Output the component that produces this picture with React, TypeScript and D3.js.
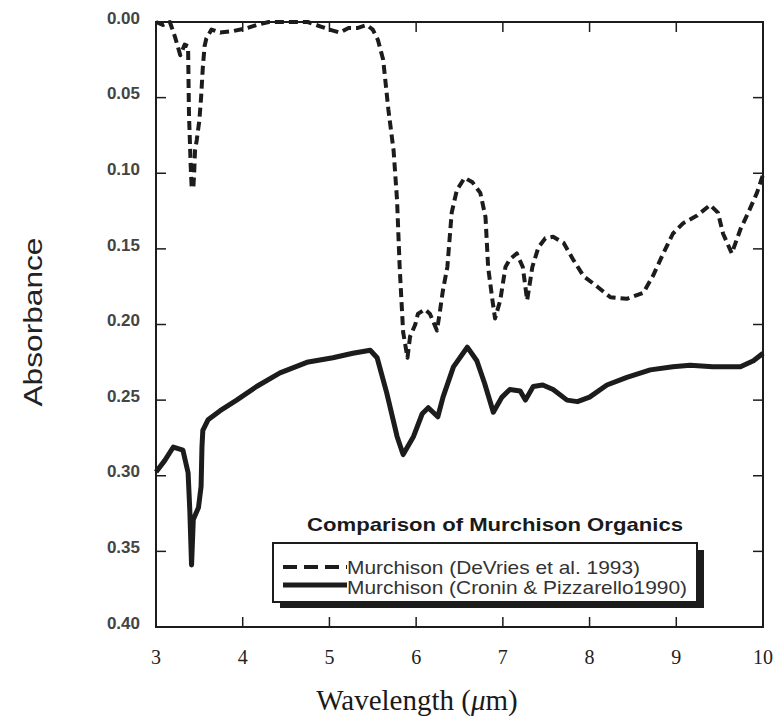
import React from 'react';
import * as d3 from 'd3';

// DeVries et al. 1993 (dashed)
const devriesWl = [
  3.0, 3.08, 3.16, 3.22, 3.28, 3.33, 3.37, 3.38, 3.40, 3.41,
  3.43, 3.44, 3.45, 3.47, 3.50, 3.52, 3.54, 3.56, 3.58, 3.64,
  3.74, 3.89, 4.05, 4.16, 4.3, 4.55, 4.75, 4.9, 5.0, 5.12,
  5.22, 5.32, 5.43, 5.5, 5.56, 5.62, 5.68, 5.74, 5.78, 5.81,
  5.85, 5.9, 5.93, 5.99, 6.02, 6.1, 6.16, 6.24, 6.27, 6.31,
  6.36, 6.41, 6.47, 6.56, 6.65, 6.74, 6.8, 6.83, 6.88, 6.91,
  6.97, 7.03, 7.08, 7.16, 7.23, 7.28, 7.34, 7.41, 7.49, 7.58,
  7.70, 7.81, 7.93, 8.09, 8.24, 8.43, 8.62, 8.73, 8.85, 8.96,
  9.08, 9.24, 9.39, 9.48, 9.54, 9.64, 9.74, 9.83, 9.93, 10.0,
];
const devriesAbs = [
  0.0, 0.002, 0.0, 0.01, 0.022, 0.015, 0.016, 0.06, 0.095, 0.108,
  0.11, 0.1, 0.085, 0.078, 0.065, 0.05, 0.03, 0.016, 0.011, 0.005,
  0.007, 0.006, 0.004, 0.002, 0.0, 0.0, 0.0, 0.003, 0.005, 0.007,
  0.004, 0.004, 0.002, 0.005, 0.012, 0.025, 0.058, 0.085, 0.118, 0.162,
  0.205, 0.222, 0.208, 0.2, 0.193, 0.19, 0.193, 0.204, 0.193, 0.177,
  0.162, 0.126, 0.111, 0.103, 0.106, 0.113, 0.129, 0.162, 0.184, 0.196,
  0.184, 0.162, 0.157, 0.153, 0.162, 0.184, 0.162, 0.149, 0.143, 0.142,
  0.146, 0.157, 0.168, 0.175, 0.182, 0.183, 0.179, 0.168, 0.153, 0.14,
  0.133, 0.128, 0.121, 0.126, 0.14, 0.153, 0.137, 0.126, 0.113, 0.101,
];

// Cronin & Pizzarello 1990 (solid)
const croninWl = [
  3.0, 3.1, 3.2, 3.31, 3.37, 3.39, 3.41, 3.43, 3.49, 3.52,
  3.53, 3.54, 3.6, 3.74, 3.93, 4.16, 4.43, 4.74, 5.04, 5.27,
  5.47, 5.55, 5.66, 5.78, 5.85, 5.97, 6.07, 6.14, 6.25, 6.31,
  6.43, 6.59, 6.70, 6.79, 6.89, 6.99, 7.08, 7.20, 7.26, 7.35,
  7.46, 7.58, 7.74, 7.86, 8.0, 8.2, 8.43, 8.7, 8.96, 9.16,
  9.42, 9.74, 9.89, 10.0,
];
const croninAbs = [
  0.2975, 0.29, 0.281, 0.283, 0.298, 0.323, 0.359, 0.329, 0.321, 0.307,
  0.281, 0.27, 0.263, 0.257, 0.25, 0.241, 0.232, 0.225, 0.222, 0.219,
  0.217, 0.222, 0.245, 0.274, 0.286, 0.274, 0.259, 0.255, 0.261, 0.248,
  0.228, 0.215, 0.224, 0.239, 0.258, 0.248, 0.243, 0.244, 0.25, 0.241,
  0.24, 0.243, 0.25, 0.251, 0.248, 0.24, 0.235, 0.23, 0.228, 0.227,
  0.228, 0.228, 0.224, 0.219,
];

const xTicks = [3, 4, 5, 6, 7, 8, 9, 10];
const yTicks = [0, 0.05, 0.1, 0.15, 0.2, 0.25, 0.3, 0.35, 0.4];

const legendTitle = 'Comparison of Murchison Organics';
const legendLabels = [
  'Murchison (DeVries et al. 1993)',
  'Murchison (Cronin & Pizzarello1990)',
];

const W = 774;
const H = 716;
const left = 156;
const right = 763;
const top = 22;
const bottom = 627;
const ink = '#1c1c1c';

export default function App() {
  const x = d3.scaleLinear().domain([3, 10]).range([left, right]);
  const y = d3.scaleLinear().domain([0, 0.4]).range([top, bottom]);

  const line = d3
    .line<[number, number]>()
    .x((d) => x(d[0]))
    .y((d) => y(d[1]));

  const devries = devriesWl.map((w, i) => [w, devriesAbs[i]] as [number, number]);
  const cronin = croninWl.map((w, i) => [w, croninAbs[i]] as [number, number]);

  const tickLen = 10;

  return (
    <svg
      width={W}
      height={H}
      style={{ position: 'absolute', left: 0, top: 0, background: '#fff' }}
    >
      <rect x={0} y={0} width={W} height={H} fill="#fff" />

      {/* frame */}
      <rect
        x={left}
        y={top}
        width={right - left}
        height={bottom - top}
        fill="none"
        stroke={ink}
        strokeWidth={2}
      />

      {/* x ticks top and bottom */}
      {xTicks.slice(1, -1).map((t) => (
        <g key={'xt' + t}>
          <line x1={x(t)} x2={x(t)} y1={bottom} y2={bottom - tickLen} stroke={ink} strokeWidth={1.5} />
          <line x1={x(t)} x2={x(t)} y1={top} y2={top + tickLen} stroke={ink} strokeWidth={1.5} />
        </g>
      ))}
      {xTicks.map((t) => (
        <text
          key={'xl' + t}
          x={x(t)}
          y={664}
          textAnchor="middle"
          fontFamily="'Liberation Serif', 'Times New Roman', serif"
          fontSize={20}
          fill="#222"
        >
          {t}
        </text>
      ))}

      {/* y ticks left and right */}
      {yTicks.slice(1, -1).map((t) => (
        <g key={'yt' + t}>
          <line x1={left} x2={left + tickLen} y1={y(t)} y2={y(t)} stroke={ink} strokeWidth={1.5} />
          <line x1={right} x2={right - tickLen} y1={y(t)} y2={y(t)} stroke={ink} strokeWidth={1.5} />
        </g>
      ))}
      {yTicks.map((t) => (
        <text
          key={'yl' + t}
          x={140}
          y={y(t)}
          dy="0.1em"
          textAnchor="end"
          fontFamily="'Liberation Sans', Arial, sans-serif"
          fontWeight="bold"
          fontSize={17}
          fill="#444"
        >
          {d3.format('.2f')(t)}
        </text>
      ))}

      {/* axis titles */}
      <text
        transform="translate(42,322) rotate(-90)"
        textAnchor="middle"
        fontFamily="'Liberation Sans', Arial, sans-serif"
        fontSize={25}
        textLength={169}
        lengthAdjust="spacingAndGlyphs"
        fill="#222"
      >
        Absorbance
      </text>
      <text
        x={417}
        y={710}
        textAnchor="middle"
        fontFamily="'Liberation Serif', 'Times New Roman', serif"
        fontSize={29}
        fill="#1a1a1a"
      >
        Wavelength (<tspan fontStyle="italic">μ</tspan>m)
      </text>

      {/* series */}
      <path
        d={line(cronin) || ''}
        fill="none"
        stroke={ink}
        strokeWidth={5}
        strokeLinejoin="round"
      />
      <path
        d={line(devries) || ''}
        fill="none"
        stroke={ink}
        strokeWidth={4}
        strokeDasharray="9,5"
        strokeLinejoin="round"
      />

      {/* legend */}
      <text
        x={495}
        y={531}
        textAnchor="middle"
        fontFamily="'Liberation Sans', Arial, sans-serif"
        fontWeight="bold"
        fontSize={19}
        textLength={376}
        lengthAdjust="spacingAndGlyphs"
        fill="#1a1a1a"
      >
        {legendTitle}
      </text>
      <rect x={280} y={550} width={424} height={58} fill={ink} />
      <rect x={273} y={543} width={424} height={59} fill="#fff" stroke={ink} strokeWidth={2} />
      <line x1={283} x2={347} y1={567} y2={567} stroke={ink} strokeWidth={4} strokeDasharray="14,7" />
      <line x1={283} x2={347} y1={585} y2={585} stroke={ink} strokeWidth={5} />
      <text
        x={347}
        y={574}
        fontFamily="'Liberation Sans', Arial, sans-serif"
        fontSize={19}
        textLength={293}
        lengthAdjust="spacingAndGlyphs"
        fill="#333"
      >
        {legendLabels[0]}
      </text>
      <text
        x={347}
        y={594}
        fontFamily="'Liberation Sans', Arial, sans-serif"
        fontSize={19}
        textLength={340}
        lengthAdjust="spacingAndGlyphs"
        fill="#333"
      >
        {legendLabels[1]}
      </text>
    </svg>
  );
}
